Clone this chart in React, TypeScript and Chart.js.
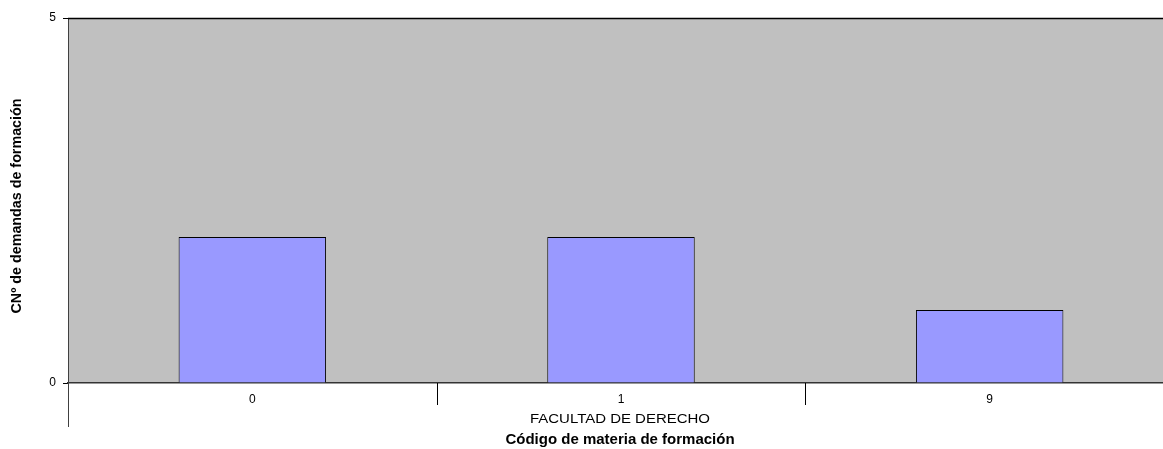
import React, { useEffect, useRef } from "react";
import { Chart, registerables } from "chart.js";

Chart.register(...registerables);

const categories: string[] = ["0", "1", "9"];
const demandValues: number[] = [2, 2, 1];
const yTickValues: number[] = [0, 5];
const groupLabel = "FACULTAD DE DERECHO";
const xTitle = "Código de materia de formación";
const yTitle = "CNº de demandas de formación";

const FONT = "'Liberation Sans', Arial, sans-serif";

function stretchedText(ctx: any, text: string, x: number, y: number, width: number) {
  const w = ctx.measureText(text).width;
  ctx.save();
  ctx.translate(x, y);
  ctx.scale(width / w, 1);
  ctx.fillText(text, 0, 0);
  ctx.restore();
}

const decorPlugin = {
  id: "decor",
  beforeDraw(chart: any) {
    const { ctx, chartArea } = chart;
    ctx.save();
    ctx.fillStyle = "#C0C0C0";
    ctx.fillRect(chartArea.left, chartArea.top, chartArea.right - chartArea.left, chartArea.bottom - chartArea.top);
    ctx.restore();
  },
  afterDraw(chart: any) {
    const { ctx, chartArea } = chart;
    const xs = chart.scales.x;
    ctx.save();
    ctx.strokeStyle = "#000000";
    ctx.lineWidth = 1.5;
    ctx.beginPath();
    ctx.moveTo(chartArea.left, chartArea.top + 0.5);
    ctx.lineTo(chartArea.right, chartArea.top + 0.5);
    ctx.stroke();
    ctx.strokeStyle = "#404040";
    ctx.lineWidth = 1;
    ctx.beginPath();
    ctx.moveTo(chartArea.left + 0.5, chartArea.bottom);
    ctx.lineTo(chartArea.left + 0.5, chartArea.bottom + 44);
    ctx.stroke();
    ctx.strokeStyle = "#000000";
    for (let i = 0; i < categories.length - 1; i++) {
      const a = xs.getPixelForValue(i);
      const b = xs.getPixelForValue(i + 1);
      const m = Math.round((a + b) / 2) + 0.5;
      ctx.beginPath();
      ctx.moveTo(m, chartArea.bottom);
      ctx.lineTo(m, chartArea.bottom + 22);
      ctx.stroke();
    }
    const cx = 620;
    ctx.fillStyle = "#000000";
    ctx.textAlign = "center";
    ctx.textBaseline = "middle";
    ctx.font = `12px ${FONT}`;
    stretchedText(ctx, groupLabel, cx, chartArea.bottom + 37, 180);
    ctx.font = `bold 15px ${FONT}`;
    ctx.fillText(xTitle, cx, chartArea.bottom + 57);
    ctx.font = `bold 14px ${FONT}`;
    const w = ctx.measureText(yTitle).width;
    ctx.translate(17, 206);
    ctx.rotate(-Math.PI / 2);
    ctx.scale(215 / w, 1);
    ctx.fillText(yTitle, 0, 0);
    ctx.restore();
  },
};

export default function App() {
  const ref = useRef<HTMLCanvasElement | null>(null);
  useEffect(() => {
    if (!ref.current) return;
    const chart = new Chart(ref.current, {
      type: "bar",
      data: {
        labels: categories,
        datasets: [
          {
            data: demandValues,
            backgroundColor: "#9999FF",
            borderColor: "#000000",
            borderWidth: 1,
            barPercentage: 0.4,
            categoryPercentage: 1,
          },
        ],
      },
      options: {
        responsive: false,
        animation: false,
        layout: { padding: { top: 18, right: 2, left: 0, bottom: 0 } },
        plugins: { legend: { display: false }, tooltip: { enabled: false } },
        scales: {
          x: {
            offset: true,
            grid: { display: false, drawTicks: false },
            border: { display: true, color: "#333333", width: 1.5 },
            ticks: { color: "#000000", font: { family: FONT, size: 12 }, padding: 9, maxRotation: 0 },
            afterFit(scale: any) {
              scale.height = 66;
            },
          },
          y: {
            min: 0,
            max: 5,
            afterBuildTicks(scale: any) {
              scale.ticks = yTickValues.map((v) => ({ value: v }));
            },
            grid: { display: true, drawOnChartArea: false, drawTicks: true, tickLength: 5, color: "#000000" },
            border: { display: true, color: "#404040", width: 1 },
            ticks: { color: "#000000", font: { family: FONT, size: 12 }, padding: 7 },
            afterFit(scale: any) {
              scale.width = 68;
            },
          },
        },
      },
      plugins: [decorPlugin],
    });
    return () => chart.destroy();
  }, []);
  return (
    <div style={{ position: "fixed", left: 0, top: 0, width: 1163, height: 449, overflow: "hidden", background: "#ffffff" }}>
      <canvas ref={ref} width={1176} height={449} style={{ width: 1176, height: 449, display: "block" }} />
    </div>
  );
}
